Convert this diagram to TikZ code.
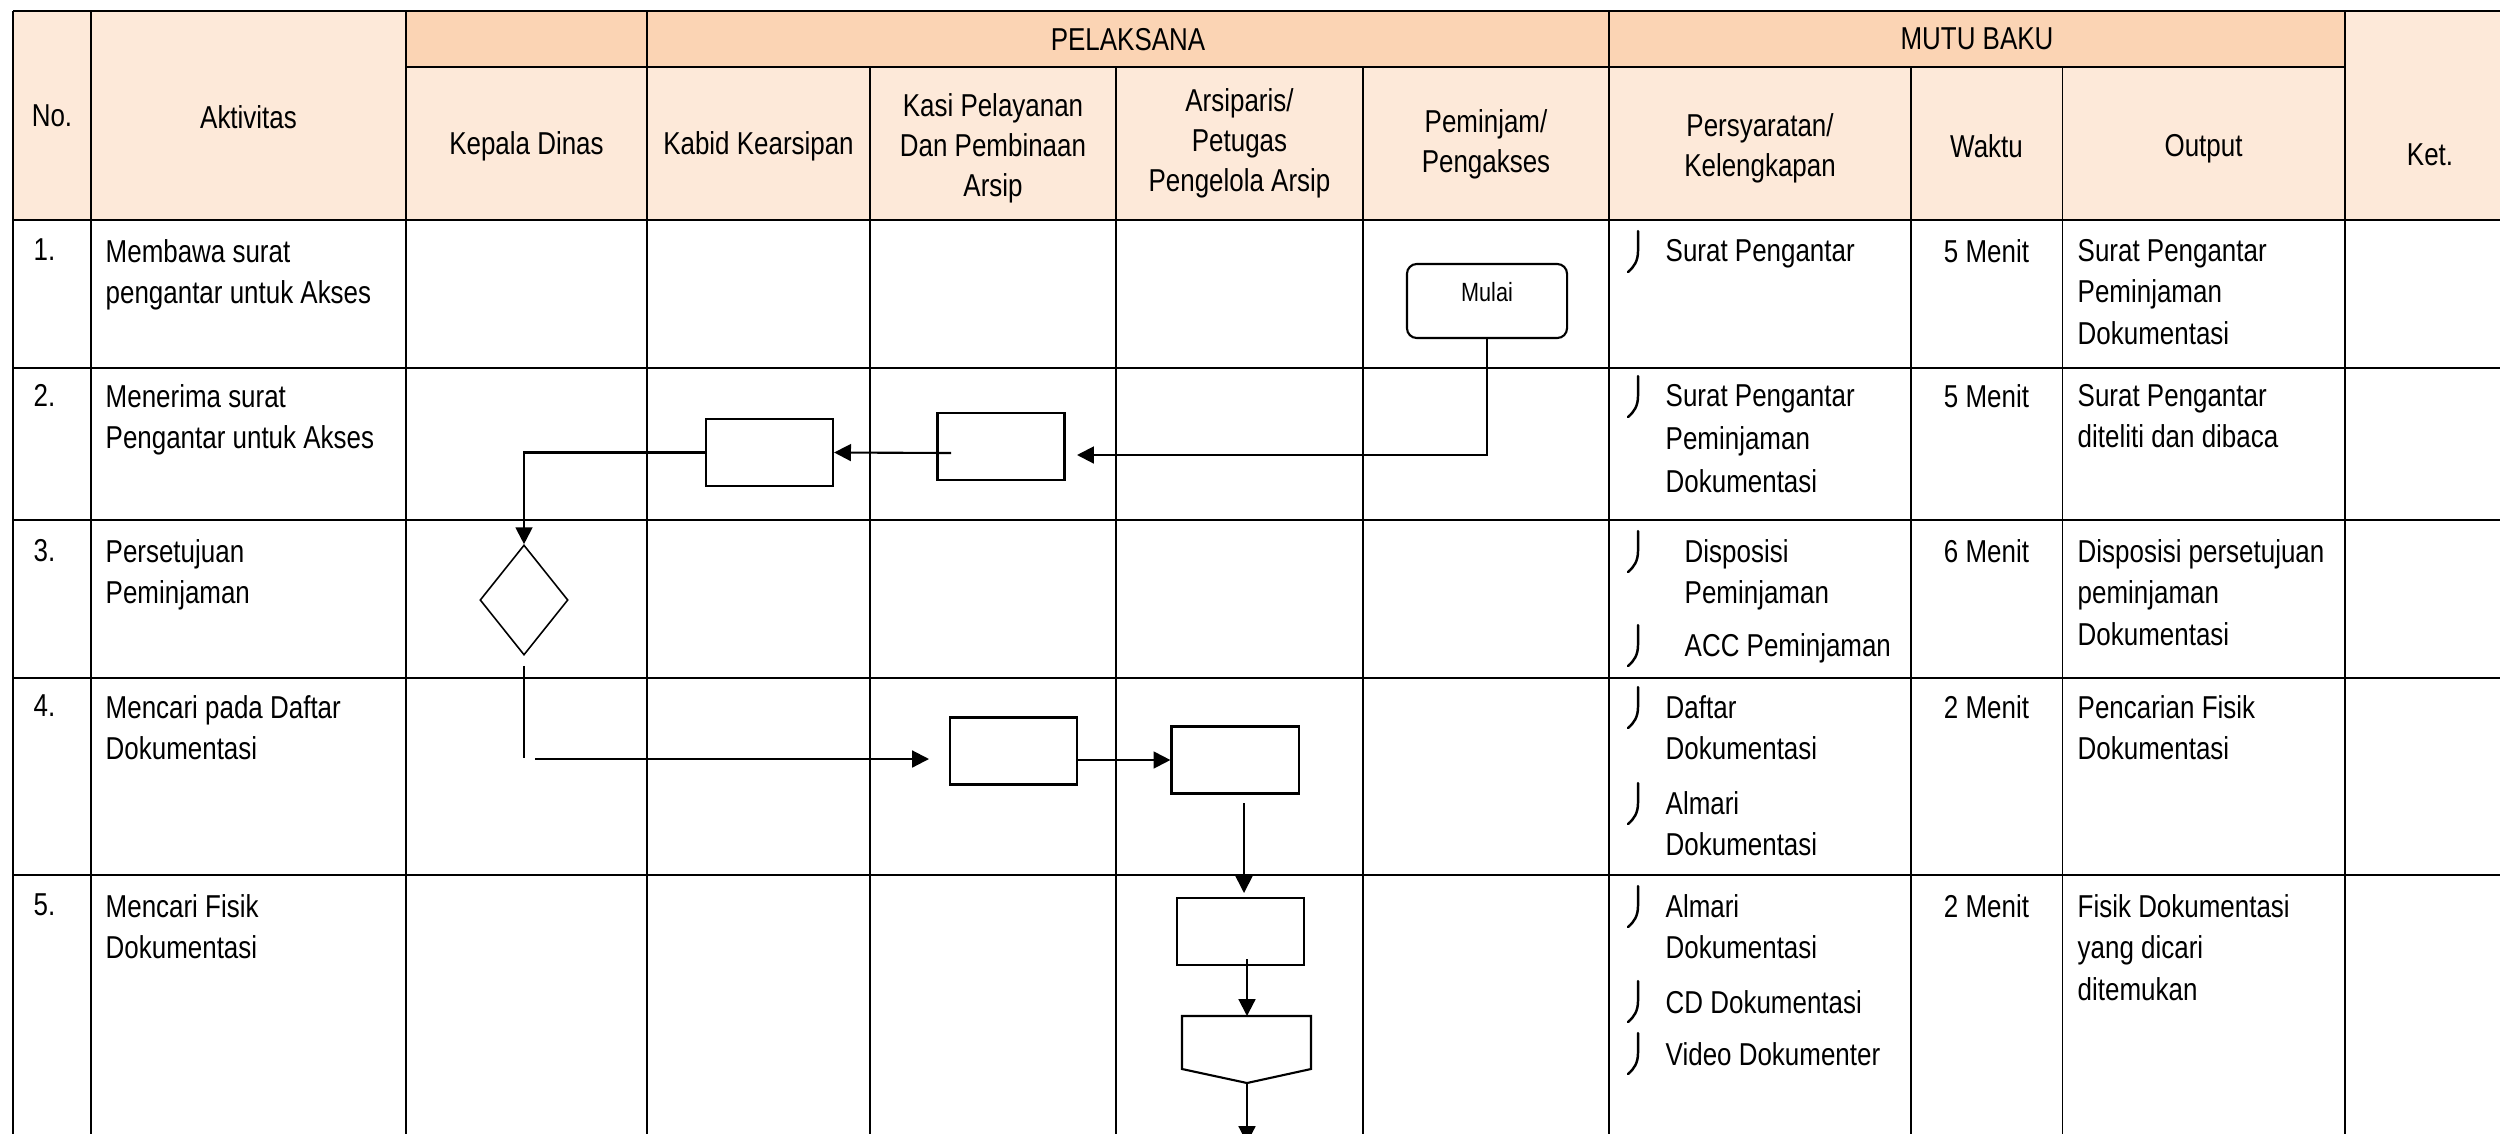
\documentclass[tikz,border=0pt]{standalone}
\usepackage{fontspec}
\setmainfont{Liberation Sans}[FakeStretch=0.82]
\usetikzlibrary{arrows.meta,shapes.geometric,calc}
\definecolor{hdrdark}{HTML}{FBD4B4}
\definecolor{hdrlight}{HTML}{FDE9D9}
\begin{document}
\begin{tikzpicture}[x=0.01cm,y=-0.01cm,
  tline/.style={line width=0.42pt},
  vline/.style={line width=0.3pt},
  fbox/.style={draw,line width=0.6pt,inner sep=0pt,minimum width=1.27cm,minimum height=0.67cm},
  flow/.style={line width=0.6pt,-{Triangle[length=4.8pt,width=4.8pt]}},
  fline/.style={line width=0.6pt},
  cell/.style={inner sep=0pt,font=\fontsize{9}{11.8}\selectfont,align=left,anchor=north west},
  ccell/.style={inner sep=0pt,font=\fontsize{9}{11.8}\selectfont,align=center,anchor=north},
  hcell/.style={inner sep=0pt,font=\fontsize{9}{11.4}\selectfont,align=center,anchor=north},
  chk/.pic={\draw[line width=0.7pt,line cap=round] (1,-20) -- (1,0) .. controls (1,10) and (-3,16) .. (-9,21);}
]
\useasboundingbox (0,0) rectangle (2500,1133);
\clip (0,0) rectangle (2500,1133);

% header fills
\fill[hdrlight] (13,11) rectangle (406,220);
\fill[hdrdark] (406,11) rectangle (2345,67);
\fill[hdrlight] (406,67) rectangle (2345,220);
\fill[hdrlight] (2345,11) rectangle (2520,220);

% grid
\draw[tline] (13,11) -- (2520,11);
\draw[tline] (406,67) -- (2345,67);
\foreach \y in {220,368,520,678,875} \draw[tline] (13,\y) -- (2520,\y);
\foreach \x in {13,91,406,647,1609,2345} \draw[tline] (\x,11) -- (\x,1140);
\foreach \x in {870,1116,1363,1911,2062} \draw[vline] (\x,67) -- (\x,1140);

% header texts
\node[hcell] (hpel) at (1128,27.5) {PELAKSANA};
\node[hcell] (hmutu) at (1977,27.5) {MUTU BAKU};
\node[hcell] (hno) at (52,104.5) {No.};
\node[hcell] (hakt) at (248.5,104.5) {Aktivitas};
\node[hcell] (hkep) at (526.5,130.5) {Kepala Dinas};
\node[hcell] (hkab) at (758.5,130.5) {Kabid Kearsipan};
\node[hcell] (hkasi) at (993,92.5) {Kasi Pelayanan\\Dan Pembinaan\\Arsip};
\node[hcell] (hars) at (1239.5,87.5) {Arsiparis/\\Petugas\\Pengelola Arsip};
\node[hcell] (hpem) at (1486,108.5) {Peminjam/\\Pengakses};
\node[hcell] (hper) at (1760,112.5) {Persyaratan/\\Kelengkapan};
\node[hcell] (hwak) at (1986.5,133.5) {Waktu};
\node[hcell] (hout) at (2203.5,133.5) {Output};
\node[hcell] (hket) at (2430,143.5) {Ket.};

% row 1
\node[cell] (n1) at (33,238.5) {1.};
\node[cell] (a1) at (105,238.5) {Membawa surat\\pengantar untuk Akses};
\pic at (1637,251) {chk};
\node[cell] (p1) at (1665,238.5) {Surat Pengantar};
\node[ccell] (w1) at (1986.5,238.5) {5 Menit};
\node[cell] (o1) at (2077,238.5) {Surat Pengantar\\Peminjaman\\Dokumentasi};

% row 2
\node[cell] (n2) at (33,383.5) {2.};
\node[cell] (a2) at (105,383.5) {Menerima surat\\Pengantar untuk Akses};
\pic at (1637,396) {chk};
\node[cell,font=\fontsize{9}{12.2}\selectfont] (p2) at (1665,383.5) {Surat Pengantar\\Peminjaman\\Dokumentasi};
\node[ccell] (w2) at (1986.5,383.5) {5 Menit};
\node[cell] (o2) at (2077,383.5) {Surat Pengantar\\diteliti dan dibaca};

% row 3
\node[cell] (n3) at (33,538.5) {3.};
\node[cell] (a3) at (105,538.5) {Persetujuan\\Peminjaman};
\pic at (1637,551) {chk};
\node[cell] (p3a) at (1684,538.5) {Disposisi\\Peminjaman};
\pic at (1637,645) {chk};
\node[cell] (p3b) at (1684,632.5) {ACC Peminjaman};
\node[ccell] (w3) at (1986.5,538.5) {6 Menit};
\node[cell] (o3) at (2077,538.5) {Disposisi persetujuan\\peminjaman\\Dokumentasi};

% row 4
\node[cell] (n4) at (33,694.5) {4.};
\node[cell] (a4) at (105,694.5) {Mencari pada Daftar\\Dokumentasi};
\pic at (1637,707) {chk};
\node[cell] (p4a) at (1665,694.5) {Daftar\\Dokumentasi};
\pic at (1637,803) {chk};
\node[cell] (p4b) at (1665,790.5) {Almari\\Dokumentasi};
\node[ccell] (w4) at (1986.5,694.5) {2 Menit};
\node[cell] (o4) at (2077,694.5) {Pencarian Fisik\\Dokumentasi};

% row 5
\node[cell] (n5) at (33,893.5) {5.};
\node[cell] (a5) at (105,893.5) {Mencari Fisik\\Dokumentasi};
\pic at (1637,906) {chk};
\node[cell] (p5a) at (1665,893.5) {Almari\\Dokumentasi};
\pic at (1637,1001) {chk};
\node[cell] (p5b) at (1665,989.5) {CD Dokumentasi};
\pic at (1637,1053) {chk};
\node[cell] (p5c) at (1665,1041.5) {Video Dokumenter};
\node[ccell] (w5) at (1986.5,893.5) {2 Menit};
\node[cell] (o5) at (2077,893.5) {Fisik Dokumentasi\\yang dicari\\ditemukan};

% flow shapes
\node[draw,rounded corners=2.8pt,line width=0.6pt,inner sep=0pt,minimum width=1.6cm,
      text height=0.37cm,text depth=0.37cm,font=\fontsize{7.5}{8}\selectfont] (mulai) at (1487,301) {Mulai};
\node[fbox] (boxA) at (1001,446.5) {};
\node[fbox] (boxB) at (769.5,452.5) {};
\node[diamond,draw,line width=0.45pt,inner sep=0pt,minimum width=0.88cm,minimum height=1.1cm] (dia) at (524,600) {};
\node[fbox] (boxC) at (1013.5,751) {};
\node[fbox] (boxD) at (1235,760) {};
\node[fbox] (boxE) at (1240.5,931.5) {};
\draw[fline] (1182,1016) -- (1311,1016) -- (1311,1069) -- (1247,1083) -- (1182,1069) -- cycle;
\coordinate (pt) at (1247,1016);
\coordinate (pb) at (1247,1083);

% connectors
\coordinate (t1) at (1077,455);
\draw[flow] (mulai.south) |- (t1);
\coordinate (a2s) at (951,453);
\draw[flow] (a2s) -- (boxB.east);
\draw[flow] (boxB.west) -| (dia.north);
\coordinate (c4a) at (524,758);
\coordinate (c4b) at (535,759);
\coordinate (c4t) at (929,759);
\draw[line width=0.45pt] ($(dia.south)+(0,10)$) -- (c4a);
\draw[flow] (c4b) -- (c4t);
\draw[flow] (boxC.east |- boxD.west) -- (boxD.west);
\coordinate (d5a) at (1244,803);
\coordinate (d5b) at (1244,893);
\draw[flow,line width=0.45pt] (d5a) -- (d5b);
\coordinate (e5a) at (1247,959);
\draw[flow] (e5a) -- (pt);
\coordinate (e5b) at (1247,1143);
\draw[flow] (pb) -- (e5b);
\end{tikzpicture}
\end{document}
